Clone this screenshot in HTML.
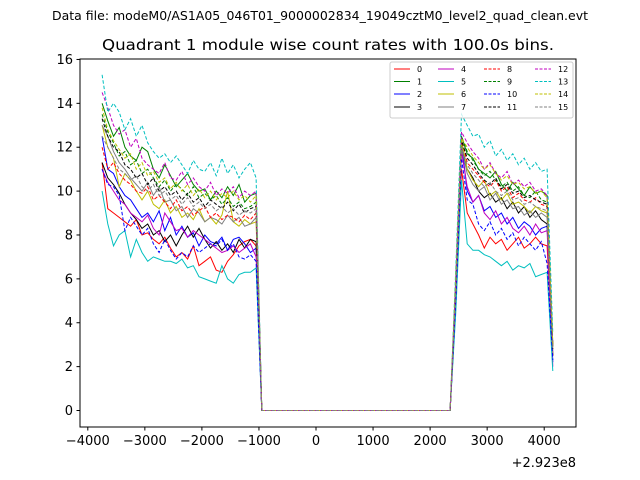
<!DOCTYPE html>
<html><head><meta charset="utf-8"><style>
body{margin:0;background:#fff;}
svg{display:block;font-family:"DejaVu Sans","Liberation Sans",sans-serif;}
</style></head><body>
<svg id="chart" width="640" height="480">
<rect width="640" height="480" fill="#fff"/>
<text x="320" y="20" font-size="12" text-anchor="middle" textLength="536" lengthAdjust="spacingAndGlyphs">Data file: modeM0/AS1A05_046T01_9000002834_19049cztM0_level2_quad_clean.evt</text>
<text x="328" y="50" font-size="15.5" text-anchor="middle" textLength="452" lengthAdjust="spacingAndGlyphs">Quadrant 1 module wise count rates with 100.0s bins.</text>
<g id="plot"></g>
<rect x="80" y="59" width="496" height="368" fill="none" stroke="#000" stroke-width="1"/>
<g id="axes"></g>
<text x="576" y="467" font-size="13" text-anchor="end">+2.923e8</text>
<g id="legend"></g>
</svg>
<script>
const leftX=[-3750,-3650,-3550,-3450,-3350,-3250,-3150,-3050,-2950,-2850,-2750,-2650,-2550,-2450,-2350,-2250,-2150,-2050,-1950,-1850,-1750,-1650,-1550,-1450,-1350,-1250,-1150,-1050];
const gapX=[-950,-850,-750,-650,-550,-450,-350,-250,-150,-50,50,150,250,350,450,550,650,750,850,950,1050,1150,1250,1350,1450,1550,1650,1750,1850,1950,2050,2150,2250,2350];
const rightX=[2450,2550,2650,2750,2850,2950,3050,3150,3250,3350,3450,3550,3650,3750,3850,3950,4050,4150];
const gapVals=[0,0,0,0,0,0,0,0,0,0,0,0,0,0,0,0,0,0,0,0,0,0,0,0,0,0,0,0,0,0,0,0,0,0];
const xTicks=[-4000,-3000,-2000,-1000,0,1000,2000,3000,4000];
const yTicks=[0,2,4,6,8,10,12,14,16];
const left0=[11.3,9.2,9.0,8.8,8.6,8.4,8.7,8.0,8.1,7.8,7.6,7.9,7.4,7.0,7.2,6.9,7.5,6.6,6.8,7.0,6.4,6.3,6.8,7.1,7.5,7.7,7.8,7.5];
const right0=[5.0,11.0,9.0,8.5,8.0,7.4,7.9,7.6,7.8,7.3,7.6,7.9,7.4,7.6,7.9,7.6,7.5,2.5];
const left1=[14.0,13.2,12.5,12.9,12.0,11.6,11.4,12.0,11.8,11.0,10.6,11.2,10.7,10.2,10.5,10.8,10.3,10.0,10.1,9.6,10.0,9.7,10.2,9.8,10.3,9.5,9.8,9.9];
const right1=[6.0,12.5,11.7,11.5,11.0,10.8,10.6,10.9,10.3,10.0,10.4,10.1,9.8,10.2,9.9,10.0,9.8,3.0];
const left2=[12.5,11.0,10.8,10.2,9.8,9.6,9.2,8.8,9.0,8.6,9.1,8.2,8.8,8.0,8.4,7.9,8.1,7.5,8.0,7.7,7.6,7.9,7.3,7.8,7.9,7.6,7.2,7.4];
const right2=[5.5,12.2,10.0,9.5,9.8,9.1,9.3,8.8,9.0,8.5,8.8,8.3,8.6,8.4,8.0,8.3,8.4,2.2];
const left3=[11.3,10.6,10.3,9.9,9.4,9.0,8.7,8.3,8.5,8.0,8.2,7.7,8.0,7.5,8.0,8.4,7.9,8.3,7.8,7.4,7.7,7.3,7.6,7.2,7.8,7.4,7.8,7.7];
const right3=[5.0,12.0,11.0,10.6,10.0,9.7,9.9,9.5,9.7,9.2,9.5,9.0,9.3,8.8,9.1,8.7,8.5,2.5];
const left4=[11.0,10.4,10.0,9.6,9.4,9.0,8.8,8.6,8.9,8.3,8.0,9.0,8.6,8.2,8.3,7.9,8.2,8.0,7.8,7.6,7.4,7.2,7.3,7.5,7.2,7.4,7.6,7.0];
const right4=[5.0,11.8,10.2,9.5,9.8,9.0,8.7,9.1,8.5,8.8,8.3,8.1,8.4,8.0,8.5,8.1,8.2,2.0];
const left5=[10.0,8.5,7.5,8.0,8.2,7.0,7.8,7.2,6.8,7.0,6.9,6.8,6.8,6.7,6.9,6.5,6.6,6.1,6.0,5.9,5.8,6.6,6.0,5.8,6.2,6.3,6.3,6.5];
const right5=[4.5,10.5,7.6,7.3,7.3,7.1,7.0,6.8,6.6,6.8,6.4,6.6,6.5,6.7,6.1,6.2,6.3,1.8];
const left6=[13.0,12.0,11.5,10.2,10.8,10.5,10.0,9.6,10.0,9.4,9.2,9.6,9.0,9.3,8.8,9.0,8.7,9.2,8.6,8.8,8.5,8.9,10.0,8.6,8.4,8.7,8.5,8.6];
const right6=[5.5,12.3,11.0,10.5,10.2,10.5,9.8,10.0,9.6,9.9,9.4,9.5,9.3,9.0,9.3,9.1,9.0,2.8];
const left7=[13.0,12.5,11.8,11.3,11.0,10.6,10.3,10.0,10.4,9.8,10.2,9.5,9.6,9.1,9.3,8.8,9.2,9.0,8.6,8.8,8.7,8.5,8.9,8.6,8.8,8.4,8.5,8.8];
const right7=[5.5,12.0,10.8,10.3,10.0,10.2,9.6,9.9,9.4,9.6,9.2,9.3,8.9,9.1,8.8,9.0,8.8,2.6];
const left8=[12.0,11.0,11.3,10.8,10.5,10.3,10.0,9.9,10.2,9.6,9.8,9.5,9.2,9.6,9.1,9.3,8.9,9.1,9.3,8.8,9.0,8.7,8.9,8.8,8.6,8.9,8.7,9.0];
const right8=[5.5,12.4,11.3,11.0,10.7,10.4,10.2,10.5,10.0,10.2,9.7,9.9,9.6,9.5,9.7,9.4,9.3,2.8];
const left9=[13.5,12.7,12.2,11.6,11.8,11.2,11.4,10.8,11.0,10.6,10.2,10.5,10.0,10.3,10.1,9.8,10.2,9.7,9.9,9.6,9.8,9.4,9.7,9.3,9.5,9.2,9.3,9.5];
const right9=[5.8,12.5,11.8,11.4,11.0,10.7,10.9,10.5,10.2,10.4,10.0,10.2,9.8,9.7,10.0,9.6,9.5,3.0];
const left10=[11.0,10.3,10.2,9.8,8.2,8.8,8.4,8.0,8.3,7.6,7.2,7.8,7.3,6.9,7.2,7.0,7.5,7.2,7.4,7.6,7.5,7.8,7.3,7.6,7.0,6.9,7.1,6.8];
const right10=[5.0,11.5,9.6,9.4,8.5,8.2,8.6,8.0,8.3,7.8,8.1,7.5,7.9,7.6,7.3,7.7,6.7,2.3];
const left11=[13.3,12.5,12.0,11.8,11.2,11.0,10.6,10.8,10.3,10.6,10.0,10.2,9.8,10.0,9.6,9.9,9.5,9.7,9.3,9.6,9.4,9.2,9.5,9.1,9.4,9.0,9.2,9.3];
const right11=[5.6,12.3,11.5,11.2,10.8,10.5,10.3,10.6,10.1,10.3,9.9,10.0,9.7,9.8,9.6,9.5,9.4,2.8];
const left12=[14.5,13.8,13.0,12.6,12.8,12.0,12.4,11.5,11.2,11.0,10.8,11.3,10.6,10.5,10.9,10.3,10.6,10.2,10.0,10.4,9.8,10.1,9.9,10.2,9.7,10.0,9.8,10.0];
const right12=[6.0,12.7,12.2,11.8,11.5,11.0,11.3,10.8,10.6,10.9,10.3,10.5,10.2,10.4,10.0,10.1,9.8,3.0];
const left13=[15.3,13.6,14.0,13.6,12.8,13.3,12.5,13.0,12.2,11.8,11.5,11.7,11.3,11.6,11.2,10.8,11.4,11.0,10.9,11.3,10.7,11.5,10.8,11.2,10.6,11.0,11.3,10.6];
const right13=[6.5,13.5,13.0,12.5,12.6,12.0,12.3,11.6,11.9,11.4,11.7,11.2,11.5,11.0,11.3,10.9,11.0,3.5];
const left14=[13.8,12.8,12.3,11.9,11.5,11.7,11.0,11.3,10.7,10.9,10.4,10.6,10.1,10.4,10.0,10.3,9.8,10.1,9.7,10.0,9.6,9.9,9.7,10.0,9.6,9.8,9.5,9.8];
const right14=[6.0,12.4,12.0,11.6,11.3,11.0,11.2,10.8,10.5,10.7,10.3,10.4,10.1,10.2,9.9,10.0,9.7,3.0];
const left15=[12.5,12.0,11.5,11.0,10.8,10.5,10.7,10.2,10.0,10.3,9.8,10.0,9.6,9.8,9.4,9.7,9.3,9.5,9.2,9.4,9.1,9.3,9.0,9.2,8.9,9.1,9.0,9.2];
const right15=[5.5,12.0,11.2,10.8,10.5,10.2,10.4,10.0,9.8,10.0,9.6,9.7,9.4,9.5,9.3,9.2,9.1,2.8];
const lefts=[left0,left1,left2,left3,left4,left5,left6,left7,left8,left9,left10,left11,left12,left13,left14,left15];
const rights=[right0,right1,right2,right3,right4,right5,right6,right7,right8,right9,right10,right11,right12,right13,right14,right15];
const colors=['#ff0000','#008000','#0000ff','#000000','#bf00bf','#00bfbf','#bfbf00','#808080'];

const NS='http://www.w3.org/2000/svg';
function xs(v){return 316+v*0.05705;}
function ys(v){return 410.5-v*21.94;}
function mk(tag,attrs,parent){const e=document.createElementNS(NS,tag);for(const k in attrs)e.setAttribute(k,attrs[k]);parent.appendChild(e);return e;}
const plot=document.getElementById('plot');
const allX=leftX.concat(gapX,rightX);
for(let i=0;i<16;i++){
  const vals=lefts[i].concat(gapVals,rights[i]);
  const pts=allX.map((x,j)=>xs(x).toFixed(1)+','+ys(vals[j]).toFixed(1)).join(' ');
  const a={points:pts,fill:'none',stroke:colors[i%8],'stroke-width':1};
  if(i>=8)a['stroke-dasharray']='3.5,2';
  const p=mk('polyline',a,plot);
  
  
}
const axes=document.getElementById('axes');
xTicks.forEach(t=>{
  const x=xs(t);
  const l=mk('line',{x1:x,x2:x,y1:427,y2:430.5,stroke:'#000'},axes);
  
  
  const tx=mk('text',{x:x,y:445,'font-size':13,'text-anchor':'middle'},axes);
  tx.textContent=(t<0?'\u2212'+(-t):''+t);
  
  
});
yTicks.forEach(t=>{
  const y=ys(t);
  const l=mk('line',{x1:76.5,x2:80,y1:y,y2:y,stroke:'#000'},axes);
  
  
  const tx=mk('text',{x:73,y:y+4.5,'font-size':13,'text-anchor':'end'},axes);
  tx.textContent=''+t;
  
  
});
const lg=document.getElementById('legend');
const box=mk('rect',{x:390,y:62,width:183,height:56,rx:2,fill:'#fff','fill-opacity':0.8,stroke:'#ccc'},lg);


const colLineX=[394,438,484,535];
const rowY=[69,81.5,94,107];
for(let i=0;i<16;i++){
  const c=Math.floor(i/4),r=i%4;
  const y=rowY[r];
  const a={x1:colLineX[c],x2:colLineX[c]+16,y1:y,y2:y,stroke:colors[i%8],'stroke-width':1};
  if(i>=8)a['stroke-dasharray']='3,1.5';
  const l=mk('line',a,lg);
  
  
  const t=mk('text',{x:colLineX[c]+23,y:y+2.8,'font-size':8},lg);
  t.textContent=''+i;
  
  
}
</script>
</body></html>
